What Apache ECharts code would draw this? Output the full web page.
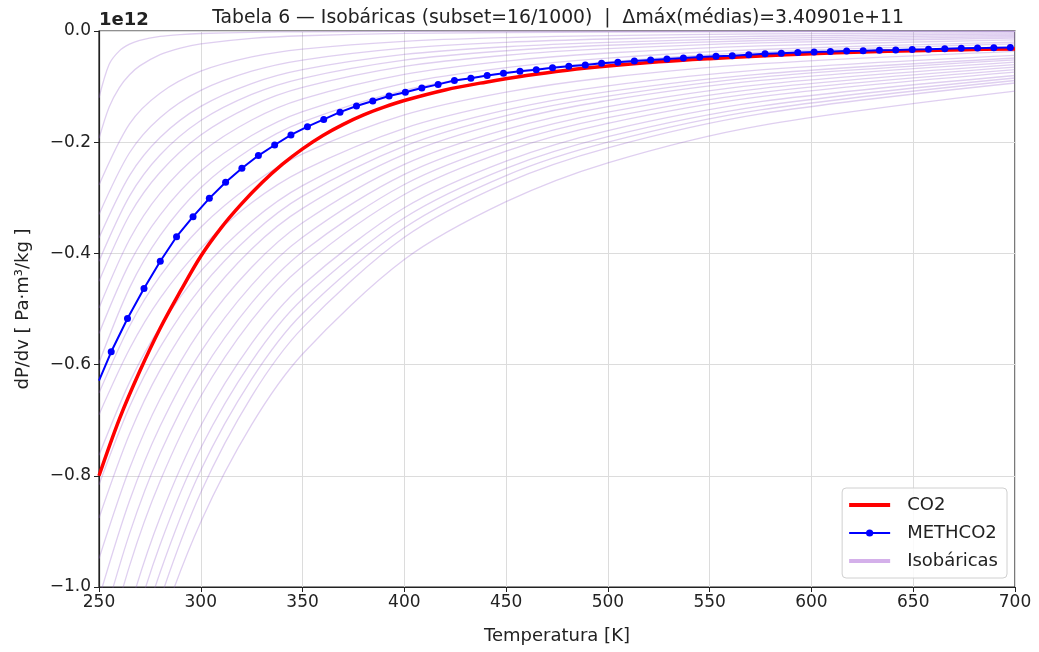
<!DOCTYPE html>
<html>
<head>
<meta charset="utf-8">
<script src="https://cdn.jsdelivr.net/npm/echarts@6/dist/echarts.min.js"></script>
<style>
html,body{margin:0;padding:0;background:#fff;}
#chart{width:1039px;height:652px;}
</style>
</head>
<body>
<div id="chart"></div>
<script>
// ---- Data (values in units of 1e12 Pa·m³/kg) ----
const X_TICKS = [250, 300, 350, 400, 450, 500, 550, 600, 650, 700];
const Y_TICKS = [-1.0, -0.8, -0.6, -0.4, -0.2, 0.0];

const T_CO2 = [250, 260, 270, 280, 290, 300, 310, 320, 330, 340, 350, 360, 370, 380, 390, 400, 420, 440, 460, 480, 500, 525, 550, 575, 600, 625, 650, 675, 700];
const CO2 = [-0.800, -0.698, -0.612, -0.535, -0.468, -0.405, -0.354, -0.311, -0.273, -0.240, -0.212, -0.188, -0.168, -0.151, -0.137, -0.125, -0.106, -0.092, -0.080, -0.0705, -0.063, -0.0555, -0.0498, -0.0450, -0.0410, -0.0378, -0.0354, -0.0336, -0.0322];

const T_METH = [250, 256.0, 264.0, 272.1, 280.1, 288.1, 296.2, 304.2, 312.2, 320.2, 328.3, 336.3, 344.3, 352.4, 360.4, 368.4, 376.5, 384.5, 392.5, 400.5, 408.6, 416.6, 424.6, 432.7, 440.7, 448.7, 456.8, 464.8, 472.8, 480.8, 488.9, 496.9, 504.9, 513.0, 521.0, 529.0, 537.1, 545.1, 553.1, 561.1, 569.2, 577.2, 585.2, 593.3, 601.3, 609.3, 617.3, 625.4, 633.4, 641.4, 649.5, 657.5, 665.5, 673.6, 681.6, 689.6, 697.7];
const METH = [-0.629, -0.577, -0.517, -0.463, -0.414, -0.370, -0.334, -0.301, -0.272, -0.247, -0.224, -0.205, -0.187, -0.172, -0.159, -0.146, -0.135, -0.126, -0.117, -0.110, -0.1025, -0.096, -0.089, -0.085, -0.080, -0.076, -0.0725, -0.0695, -0.066, -0.0635, -0.061, -0.058, -0.0563, -0.054, -0.052, -0.0504, -0.0486, -0.0468, -0.0456, -0.0444, -0.0425, -0.0410, -0.0398, -0.0388, -0.0378, -0.0370, -0.0360, -0.0354, -0.0347, -0.0340, -0.0332, -0.0326, -0.0318, -0.0312, -0.0308, -0.0302, -0.0296];

// two steep low-pressure isobars, sampled more finely
const T_ISO_TOP = [250, 255, 260, 265, 270, 280, 290, 300, 325, 350, 400, 500, 700];
const ISO_00 = [-0.120, -0.0598, -0.0357, -0.0237, -0.0169, -0.0098, -0.0064, -0.0045, -0.0023, -0.0014, -0.00066, -0.00025, -0.00008];
const ISO_01 = [-0.193, -0.1365, -0.1017, -0.0788, -0.0628, -0.0425, -0.0307, -0.0232, -0.0132, -0.0085, -0.0044, -0.0018, -0.0006];

// remaining isobars
const T_ISO = [250, 265, 280, 300, 325, 350, 400, 450, 500, 575, 700];
const ISO_02 = [-0.277, -0.167, -0.1118, -0.0723, -0.0467, -0.0326, -0.0185, -0.0119, -0.0083, -0.0053, -0.0030];
const ISO_03 = [-0.330, -0.219, -0.156, -0.1069, -0.0723, -0.0522, -0.0308, -0.0203, -0.0144, -0.0094, -0.0054];
const ISO_04 = [-0.372, -0.260, -0.1915, -0.1356, -0.0945, -0.0695, -0.0422, -0.0283, -0.0203, -0.0134, -0.0078];
const ISO_05 = [-0.414, -0.297, -0.223, -0.161, -0.114, -0.085, -0.0524, -0.0355, -0.0256, -0.0171, -0.0100];
const ISO_06 = [-0.450, -0.331, -0.254, -0.187, -0.1346, -0.1015, -0.0637, -0.0436, -0.0318, -0.0213, -0.0126];
const ISO_07 = [-0.498, -0.375, -0.292, -0.219, -0.160, -0.122, -0.078, -0.0541, -0.0396, -0.0268, -0.0160];
const ISO_08 = [-0.544, -0.418, -0.331, -0.252, -0.188, -0.145, -0.094, -0.0659, -0.0487, -0.0333, -0.0200];
const ISO_09 = [-0.597, -0.462, -0.368, -0.282, -0.211, -0.1636, -0.1067, -0.0751, -0.0557, -0.0381, -0.0230];
const ISO_10 = [-0.651, -0.531, -0.441, -0.353, -0.276, -0.221, -0.151, -0.110, -0.0836, -0.0588, -0.0365];
const ISO_11 = [-0.690, -0.572, -0.481, -0.391, -0.309, -0.251, -0.175, -0.129, -0.0987, -0.0701, -0.0440];
const ISO_12 = [-0.763, -0.632, -0.532, -0.432, -0.342, -0.278, -0.193, -0.142, -0.109, -0.0774, -0.0486];
const ISO_13 = [-0.816, -0.676, -0.569, -0.462, -0.366, -0.297, -0.207, -0.152, -0.117, -0.0828, -0.0520];
const ISO_14 = [-0.876, -0.725, -0.610, -0.496, -0.392, -0.319, -0.222, -0.163, -0.125, -0.0889, -0.0558];
const ISO_15 = [-0.949, -0.787, -0.662, -0.537, -0.425, -0.345, -0.240, -0.177, -0.136, -0.0964, -0.0605];
const ISO_16 = [-1.020, -0.845, -0.711, -0.577, -0.457, -0.371, -0.258, -0.190, -0.146, -0.1035, -0.0650];
const ISO_17 = [-1.090, -0.904, -0.760, -0.617, -0.489, -0.397, -0.276, -0.203, -0.156, -0.1107, -0.0695];
const ISO_18 = [-1.161, -0.962, -0.810, -0.657, -0.520, -0.423, -0.294, -0.216, -0.166, -0.118, -0.0740];
const ISO_19 = [-1.255, -1.040, -0.875, -0.710, -0.562, -0.457, -0.318, -0.234, -0.179, -0.127, -0.0800];
const ISO_20 = [-1.326, -1.099, -0.924, -0.750, -0.594, -0.482, -0.336, -0.247, -0.190, -0.135, -0.0845];
const ISO_21 = [-1.396, -1.157, -0.974, -0.790, -0.626, -0.508, -0.354, -0.260, -0.200, -0.142, -0.0890];
const ISO_22 = [-1.467, -1.216, -1.023, -0.830, -0.657, -0.534, -0.371, -0.273, -0.210, -0.149, -0.0935];
const ISO_23 = [-1.498, -1.259, -1.073, -0.883, -0.708, -0.581, -0.411, -0.307, -0.237, -0.170, -0.1080];
const ISOBARS_TOP = [ISO_00, ISO_01];
const ISOBARS = [ISO_02, ISO_03, ISO_04, ISO_05, ISO_06, ISO_07, ISO_08, ISO_09, ISO_10, ISO_11,
                 ISO_12, ISO_13, ISO_14, ISO_15, ISO_16, ISO_17, ISO_18, ISO_19, ISO_20, ISO_21, ISO_22, ISO_23];

const TITLE = 'Tabela 6 \u2014 Isob\u00e1ricas (subset=16/1000)  |  \u0394m\u00e1x(m\u00e9dias)=3.40901e+11';

// ---- Chart ----
const FONT = 'DejaVu Sans';
const chart = echarts.init(document.getElementById('chart'), null, {renderer: 'canvas'});

const zip = (xs, ys) => xs.map((x, i) => [x, ys[i]]);

const isoStyle = {color: 'rgba(150, 95, 205, 0.30)', width: 1.3};
const makeIso = (xs, arr) => ({
  name: 'Isobáricas',
  type: 'line',
  data: zip(xs, arr),
  smooth: 0.3,
  symbol: 'none',
  silent: true,
  z: 1,
  clip: true,
  lineStyle: isoStyle,
  itemStyle: {color: '#d4b0ea'}
});
const isoSeries = [
  ...ISOBARS_TOP.map(arr => makeIso(T_ISO_TOP, arr)),
  ...ISOBARS.map(arr => makeIso(T_ISO, arr))
];

const methData = zip(T_METH, METH).map((p, i) => i === 0 ? {value: p, symbolSize: 0} : p);

const option = {
  backgroundColor: '#fff',
  animation: false,
  textStyle: {fontFamily: FONT},
  title: {
    text: TITLE,
    left: 553, top: 4, textAlign: 'center',
    textStyle: {fontFamily: FONT, fontSize: 18.8, fontWeight: 'normal', color: '#222'}
  },
  grid: {left: 99, right: 24, top: 31, bottom: 65, show: true, borderColor: '#222', borderWidth: 1.2, containLabel: false},
  legend: {
    orient: 'vertical',
    right: 32, bottom: 74,
    data: [
      {name: 'CO2', lineStyle: {color: '#ff0000', width: 4}, itemStyle: {color: '#ff0000', opacity: 0}},
      {name: 'METHCO2', itemStyle: {color: '#0000ff'}, lineStyle: {color: '#0000ff', width: 2}},
      {name: 'Isobáricas', lineStyle: {color: '#d4b0ea', width: 4, opacity: 1}, itemStyle: {color: '#d4b0ea', opacity: 0}}
    ],
    itemWidth: 41, itemHeight: 9, itemGap: 10,
    padding: [8, 9, 8, 5],
    backgroundColor: 'rgba(255,255,255,0.85)',
    borderColor: '#d0d0d0', borderWidth: 1, borderRadius: 4,
    textStyle: {fontFamily: FONT, fontSize: 18, color: '#222', padding: [0, 0, 0, 12]}
  },
  graphic: [{
    type: 'text', left: 99, top: 11,
    style: {text: '1e12', font: 'bold 18px "DejaVu Sans"', fill: '#222'}
  }],
  xAxis: {
    type: 'value', min: 250, max: 700, interval: 50,
    name: 'Temperatura [K]', nameLocation: 'middle', nameGap: 40,
    nameTextStyle: {fontFamily: FONT, fontSize: 18, color: '#222'},
    axisLine: {show: true, onZero: false, lineStyle: {color: '#222', width: 1.2}},
    axisTick: {show: true, length: 5, lineStyle: {color: '#222'}},
    axisLabel: {fontFamily: FONT, fontSize: 17, color: '#222', margin: 7},
    splitLine: {show: true, lineStyle: {color: '#dcdcdc', width: 1}}
  },
  yAxis: {
    type: 'value', min: -1.0, max: 0.0, interval: 0.2,
    name: 'dP/dv [ Pa\u00b7m\u00b3/kg ]', nameLocation: 'middle', nameGap: 67, nameRotate: 90,
    nameTextStyle: {fontFamily: FONT, fontSize: 18, color: '#222'},
    axisLine: {show: true, onZero: false, lineStyle: {color: '#222', width: 1.2}},
    axisTick: {show: true, length: 5, lineStyle: {color: '#222'}},
    axisLabel: {
      fontFamily: FONT, fontSize: 17, color: '#222', margin: 8,
      formatter: v => (v < -1e-9 ? '\u2212' : '') + Math.abs(v).toFixed(1)
    },
    splitLine: {show: true, lineStyle: {color: '#dcdcdc', width: 1}}
  },
  series: [
    ...isoSeries,
    {
      name: 'CO2', type: 'line', data: zip(T_CO2, CO2),
      smooth: 0.35, symbol: 'none', z: 3,
      lineStyle: {color: '#ff0000', width: 3.5},
      itemStyle: {color: '#ff0000'}
    },
    {
      name: 'METHCO2', type: 'line', data: methData,
      smooth: false, symbol: 'circle', symbolSize: 7, showSymbol: true, z: 4,
      lineStyle: {color: '#0000ff', width: 2},
      itemStyle: {color: '#0000ff'}
    }
  ]
};
chart.setOption(option);
</script>
</body>
</html>
